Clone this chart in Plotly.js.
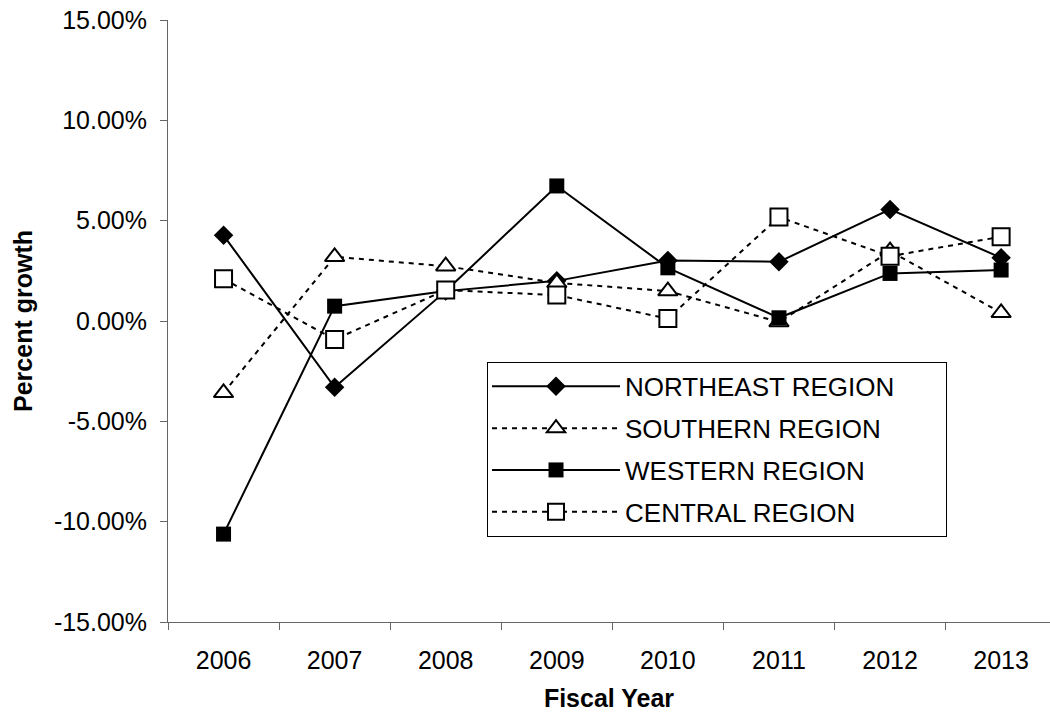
<!DOCTYPE html>
<html>
<head>
<meta charset="utf-8">
<script src="https://cdn.plot.ly/plotly-3.0.1.min.js"></script>
<style>html,body{margin:0;padding:0;background:#fff}#chart{width:1050px;height:717px}</style>
</head>
<body>
<div id="chart"></div>
<script>
const years = ['2006','2007','2008','2009','2010','2011','2012','2013'];
const northeast = [0.0427, -0.0330, 0.0149, 0.0200, 0.0302, 0.0295, 0.0556, 0.0315];
const southern  = [-0.0358, 0.0320, 0.0273, 0.0190, 0.0149, -0.0005, 0.0348, 0.0041];
const western   = [-0.1062, 0.0074, 0.0149, 0.0673, 0.0265, 0.0016, 0.0237, 0.0254];
const central   = [0.0210, -0.0092, 0.0154, 0.0129, 0.0012, 0.0518, 0.0323, 0.0420];
const seriesNames = ['NORTHEAST REGION','SOUTHERN REGION','WESTERN REGION','CENTRAL REGION'];
const yTickVals = [-0.15,-0.10,-0.05,0,0.05,0.10,0.15];
const yTickLabels = ['-15.00%','-10.00%','-5.00%','0.00%','5.00%','10.00%','15.00%'];

const FONT = 'Liberation Sans, Arial, sans-serif';

function tr(name, y, dash, symbol, size, fill, grp){
  return {
    type:'scatter', mode:'lines+markers', x:years, y:y, name:name,
    legendgroup:grp,
    line:{color:'#000', width:2, dash:dash},
    marker:{symbol:symbol, size:size, color:fill, line:{color:'#000', width:(fill==='#fff'?2:0)}},
    cliponaxis:false
  };
}

const data = [
  tr(seriesNames[0], northeast, 'solid', 'diamond', 15, '#000', 'a'),
  tr(seriesNames[1], southern, '5px,5px', 'triangle-up', 17, '#fff', 'b'),
  tr(seriesNames[2], western, 'solid', 'square', 15, '#000', 'c'),
  tr(seriesNames[3], central, '5px,5px', 'square', 17, '#fff', 'd')
];

const layout = {
  width:1050, height:717,
  margin:{l:168, r:0, t:20, b:95},
  paper_bgcolor:'#fff', plot_bgcolor:'#fff',
  font:{family:FONT, color:'#000', size:25},
  showlegend:true,
  legend:{
    orientation:'h',
    x:0.3617, y:0.432, xanchor:'left', yanchor:'top',
    bordercolor:'#000', borderwidth:1, bgcolor:'#fff',
    font:{family:FONT, size:26, color:'#000'},
    itemwidth:128, tracegroupgap:5,
    entrywidth:316, entrywidthmode:'pixels'
  },
  xaxis:{
    type:'category', range:[-0.5, 7.44],
    showline:true, linecolor:'#666', linewidth:1,
    ticks:'outside', ticklen:7, tickcolor:'#666', tickson:'boundaries',
    showgrid:false, zeroline:false,
    tickfont:{family:FONT, size:25, color:'#000'},
    ticklabelstandoff:16,
    title:{text:'<b>Fiscal Year</b>', font:{family:FONT, size:25, color:'#000'}, standoff:16}
  },
  yaxis:{
    range:[-0.15, 0.15], tickvals:yTickVals, ticktext:yTickLabels,
    showline:true, linecolor:'#666', linewidth:1,
    ticks:'outside', ticklen:7, tickcolor:'#666',
    showgrid:false, zeroline:false,
    tickfont:{family:FONT, size:25, color:'#000'},
    ticklabelstandoff:8,
    title:{text:'<b>Percent growth</b>', font:{family:FONT, size:25, color:'#000'}, standoff:14}
  }
};

Plotly.newPlot('chart', data, layout, {displayModeBar:false, staticPlot:true});
</script>
</body>
</html>
